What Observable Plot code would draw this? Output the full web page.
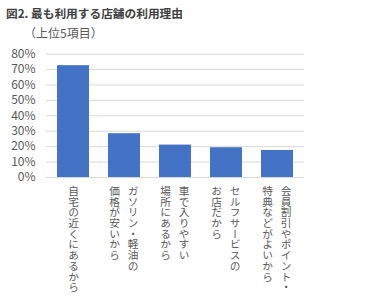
<!DOCTYPE html>
<html><head><meta charset="utf-8">
<script src="https://cdn.jsdelivr.net/npm/d3@7"></script>
<script src="https://cdn.jsdelivr.net/npm/@observablehq/plot@0.6"></script>
<style>
body{margin:0;background:#fff;font-family:"Noto Sans CJK JP",sans-serif;width:377px;height:300px;overflow:hidden}
#title{height:20px;line-height:20px;padding:3px 0 0 6px;box-sizing:content-box;font-size:11.7px;font-weight:bold;color:#404040}
#subtitle{height:20px;line-height:20px;padding-left:24px;font-size:12px;color:#595959}
#chart svg{display:block}
</style>
</head><body>
<div id="title">図2. 最も利用する店舗の利用理由</div>
<div id="subtitle">（上位5項目）</div>
<div id="chart"></div>
<script>
const categories = ["自宅の近くにあるから", "ガソリン・軽油の価格が安いから", "車で入りやすい場所にあるから", "セルフサービスのお店だから", "会員割引やポイント・特典などがよいから"];
const lineOne = ["自宅の近くにあるから", "ガソリン・軽油の", "車で入りやすい", "セルフサービスの", "会員割引やポイント・"];
const lineTwo = ["", "価格が安いから", "場所にあるから", "お店だから", "特典などがよいから"];
const values = [0.725, 0.284, 0.21, 0.193, 0.175];
const yTicks = [0, 0.1, 0.2, 0.3, 0.4, 0.5, 0.6, 0.7, 0.8];

const data = categories.map((c, i) => ({cat: c, value: values[i], l1: lineOne[i], l2: lineTwo[i]}));
const single = data.filter(d => !d.l2);
const double = data.filter(d => d.l2);

const labelStyle = {fontSize: 10.7, fill: "#595959", textAnchor: "start", lineAnchor: "bottom", frameAnchor: "bottom", dy: 8};

const chart = Plot.plot({
  width: 377,
  height: 257,
  marginLeft: 46,
  marginRight: 73,
  marginTop: 10.6,
  marginBottom: 123,
  style: {fontFamily: "'Noto Sans CJK JP', sans-serif", background: "#fff"},
  x: {domain: categories, paddingInner: 0.38, paddingOuter: 0.19, axis: null},
  y: {domain: [0, 0.8], ticks: yTicks, tickFormat: d3.format(".0%"), tickSize: 0, tickPadding: 11, label: null},
  marks: [
    Plot.ruleY(yTicks, {stroke: "#d9d9d9", strokeWidth: 1}),
    Plot.barY(data, {x: "cat", y: "value", fill: "#4472c4"}),
    Plot.text(single, {x: "cat", text: "l1", ...labelStyle}),
    Plot.text(double, {x: "cat", text: "l1", ...labelStyle, dx: 8.5}),
    Plot.text(double, {x: "cat", text: "l2", ...labelStyle, dx: -10})
  ]
});
d3.select(chart).selectAll("g[aria-label='y-axis tick label']").attr("font-size", 12).attr("fill", "#595959").style("color", "#595959");
d3.select(chart).selectAll("g[aria-label='text'] text").style("writing-mode", "vertical-rl");
document.getElementById("chart").appendChild(chart);
</script>
</body></html>
